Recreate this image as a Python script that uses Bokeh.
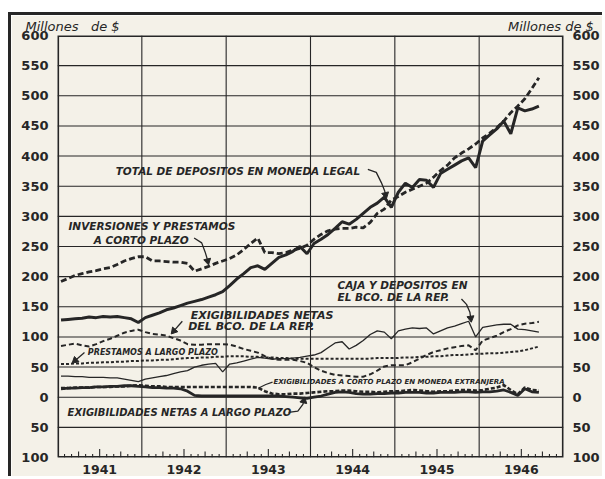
import math
from bokeh.plotting import figure
from bokeh.models import Range1d, FixedTicker, LinearAxis, Label, Title
from bokeh.embed import file_html
from bokeh.resources import INLINE

# ---------------- data (millones de $), monthly Jan 1941 .. Sep 1946 ----------------
START_YEAR = 1941
N_MONTHS = 69
YEARS = [1941, 1942, 1943, 1944, 1945, 1946]

total_depositos = [
    128, 129, 130, 131, 133, 132, 134, 133, 134, 132, 130, 124,
    132, 136, 140, 145, 148, 152, 156, 159, 162, 166, 170, 175,
    185, 196, 205, 215, 218, 212, 222, 232, 236, 242, 250, 238,
    255, 262, 270, 280, 291, 287, 295, 305, 315, 322, 332, 315,
    340, 355, 348, 361, 360, 348, 371, 378, 385, 392, 397, 381,
    425, 435, 445, 458, 437, 480, 475, 478, 483]

inversiones_corto = [
    192, 197, 202, 205, 208, 210, 213, 215, 220, 226, 230, 233,
    233, 226, 226, 225, 224, 224, 222, 209, 213, 217, 222, 226,
    230, 236, 245, 255, 264, 240, 240, 238, 240, 244, 247, 252,
    262, 270, 276, 279, 280, 280, 282, 281, 290, 305, 312, 327,
    333, 340, 345, 350, 355, 365, 376, 385, 397, 405, 412, 420,
    430, 438, 447, 458, 472, 483, 495, 512, 530]

exig_netas_bco = [
    85, 87, 89, 86, 84, 88, 93, 97, 102, 107, 110, 112,
    108, 105, 104, 102, 98, 94, 88, 87, 87, 88, 88, 88,
    87, 84, 80, 77, 74, 68, 64, 62, 62, 62, 60, 57,
    50, 44, 40, 37, 36, 35, 34, 34, 38, 44, 51, 53,
    53, 53, 58, 64, 70, 75, 78, 81, 83, 85, 86, 78,
    94, 98, 102, 108, 113, 119, 122, 123, 125]

prestamos_largo = [
    55, 55, 56, 56, 57, 57, 58, 58, 59, 59, 60, 60,
    61, 61, 62, 62, 63, 64, 65, 65, 66, 66, 67, 67,
    68, 68, 68, 67, 67, 66, 66, 65, 65, 64, 64, 64,
    64, 64, 64, 64, 64, 64, 64, 64, 64, 65, 65, 65,
    65, 66, 66, 67, 67, 68, 68, 69, 70, 70, 71, 72,
    72, 73, 73, 74, 75, 76, 78, 81, 84]

caja_depositos = [
    35, 35, 34, 34, 33, 33, 33, 32, 32, 30, 28, 26,
    30, 32, 34, 36, 39, 42, 44, 50, 53, 55, 56, 42,
    55, 57, 60, 63, 66, 65, 63, 64, 64, 65, 66, 68,
    70, 74, 82, 90, 92, 80, 86, 94, 104, 110, 108, 97,
    110, 113, 115, 114, 115, 105, 110, 115, 118, 122, 126, 100,
    116, 118, 120, 121, 121, 113, 112, 110, 108]

exig_corto_extranjera = [
    15, 15, 16, 16, 16, 17, 17, 17, 18, 18, 19, 20,
    19, 18, 18, 17, 17, 17, 17, 17, 17, 17, 17, 17,
    17, 17, 17, 17, 16, 10, 6, 5, 5, 6, 6, 7,
    8, 9, 10, 10, 11, 11, 10, 9, 9, 8, 9, 10,
    10, 11, 12, 11, 10, 9, 10, 10, 11, 12, 12, 11,
    12, 14, 16, 20, 12, 5, 16, 12, 11]

exig_netas_largo = [
    14, 15, 15, 16, 16, 17, 17, 18, 18, 19, 19, 18,
    17, 16, 16, 15, 15, 14, 10, 3, 2, 2, 2, 2,
    2, 2, 2, 2, 2, 2, 2, 2, 1, 0, -1, -2,
    0, 2, 5, 8, 9, 8, 6, 5, 5, 6, 6, 7,
    7, 8, 8, 8, 7, 7, 8, 8, 8, 9, 9, 8,
    9, 9, 10, 12, 8, 3, 14, 9, 8]

Y_TICKS = list(range(-100, 601, 50))
Y_MIN, Y_MAX = -100, 600
X_MIN, X_MAX = 1941, 1947

months_x = [START_YEAR + (m + 0.5) / 12 for m in range(N_MONTHS)]

# ---------------- styling ----------------
BG = "#f4f1e8"
INK = "#262626"
FONT = "DejaVu Sans"
NAN = float("nan")

p = figure(width=594, height=464,
           x_range=Range1d(X_MIN, X_MAX), y_range=Range1d(Y_MIN, Y_MAX),
           output_backend="svg", toolbar_location=None,
           min_border_left=46, min_border_right=42, min_border_top=18, min_border_bottom=22,
           background_fill_color=BG, border_fill_color=BG)
p.styles = {"margin-left": "8px", "margin-top": "12px",
            "border-left": "3px solid #262626", "border-top": "3px solid #262626"}
p.outline_line_color = None
p.xgrid.visible = False
p.ygrid.visible = False

# caption row above the frame ("Millones de $" on both sides)
gap = "\u00a0" * 94
p.title = Title(text="Millones\u00a0\u00a0\u00a0de $" + gap + "Millones de $",
                align="left", offset=-32, standoff=3, text_font=FONT,
                text_font_style="italic", text_font_size="13px", text_color=INK)

# invisible short dashed stroke drawn first
p.line([X_MIN + 0.01, X_MIN + 0.05], [Y_MIN + 1, Y_MIN + 1],
       line_color=BG, line_width=0.5, line_dash="3 2")

# axes (labels through plain overrides)
p.xaxis.ticker = FixedTicker(ticks=[y + 0.5 for y in YEARS])
p.xaxis.major_label_overrides = {y + 0.5: str(y) for y in YEARS}
p.xaxis.major_tick_line_color = None
p.xaxis.minor_tick_line_color = None
p.xaxis.axis_line_color = None
p.xaxis.major_label_standoff = 1
p.xaxis.major_label_text_font = FONT
p.xaxis.major_label_text_font_style = "bold"
p.xaxis.major_label_text_font_size = "12.5px"
p.xaxis.major_label_text_color = INK

y_overrides = {t: str(abs(t)) for t in Y_TICKS}
p.yaxis.ticker = FixedTicker(ticks=Y_TICKS)
p.yaxis.major_label_overrides = y_overrides
right_axis = LinearAxis(ticker=FixedTicker(ticks=Y_TICKS), major_label_overrides=y_overrides)
p.add_layout(right_axis, "right")
for ax in (p.yaxis[0], right_axis):
    ax.major_tick_line_color = None
    ax.minor_tick_line_color = None
    ax.axis_line_color = None
    ax.major_label_standoff = 3
    ax.major_label_text_font = FONT
    ax.major_label_text_font_style = "bold"
    ax.major_label_text_font_size = "13px"
    ax.major_label_text_color = INK

# ---------------- series ----------------
p.line(months_x, prestamos_largo, line_color=INK, line_width=2.0, line_dash="3 2")
p.line(months_x, caja_depositos, line_color=INK, line_width=1.3)
p.line(months_x, exig_netas_bco, line_color=INK, line_width=2.0, line_dash="5 3")
p.line(months_x, exig_corto_extranjera, line_color=INK, line_width=2.6, line_dash="4 2")
p.line(months_x, exig_netas_largo, line_color=INK, line_width=2.8)
p.line(months_x, inversiones_corto, line_color=INK, line_width=2.8, line_dash="6 3")
p.line(months_x, total_depositos, line_color=INK, line_width=3.0)

# grid + frame drawn as line glyphs (NaN-separated), same ink as the curves
gx, gy = [], []
for yr in YEARS[1:]:
    gx += [yr, yr, NAN]
    gy += [Y_MIN, Y_MAX, NAN]
for t in Y_TICKS[1:-1]:
    gx += [X_MIN, X_MAX, NAN]
    gy += [t, t, NAN]
p.line(gx, gy, line_color=INK, line_width=1.1)
p.line([X_MIN, X_MAX, X_MAX, X_MIN, X_MIN], [Y_MIN, Y_MIN, Y_MAX, Y_MAX, Y_MIN],
       line_color=INK, line_width=3.2)

# monthly tick marks along the bottom edge (inside the frame)
tx, ty = [], []
for k in range(1, 72):
    if k % 12 == 0:
        continue
    xk = START_YEAR + k / 12
    tx += [xk, xk, NAN]
    ty += [Y_MIN, Y_MIN + (14 if k % 6 == 0 else (10 if k % 3 == 0 else 6)), NAN]
p.line(tx, ty, line_color=INK, line_width=1.1)

# ---------------- annotations ----------------
PX_PER_YEAR = 506 / 6.0
PX_PER_UNIT = 424 / 700.0

def label(x, y, text, size="10.5px", style="bold italic"):
    p.add_layout(Label(x=x, y=y, text=text, text_font=FONT, text_font_style=style,
                       text_font_size=size, text_color=INK, text_baseline="middle",
                       text_align="left"))

def leader(xs, ys, width=1.3):
    p.line(xs, ys, line_color=INK, line_width=width)
    dx = (xs[-1] - xs[-2]) * PX_PER_YEAR
    dy = (ys[-1] - ys[-2]) * PX_PER_UNIT
    ang = math.atan2(dy, dx) - math.pi / 2
    p.scatter([xs[-1]], [ys[-1]], marker="triangle", size=7, angle=ang,
              fill_color=INK, line_color=INK)

label(1941.69, 376, "TOTAL DE DEPOSITOS EN MONEDA LEGAL")
leader([1944.68, 1944.78, 1944.84, 1944.88, 1944.89], [378, 373, 356, 342, 336])

label(1941.13, 284, "INVERSIONES Y PRESTAMOS")
label(1941.43, 261, "A CORTO PLAZO")
leader([1942.62, 1942.71, 1942.75, 1942.77, 1942.78], [264, 256, 241, 232, 226])

label(1942.58, 136, "EXIGIBILIDADES NETAS", size="11px")
label(1942.55, 117, "DEL BCO. DE LA REP.", size="11px")
leader([1942.48, 1942.38], [126, 110])

label(1944.32, 186, "CAJA Y DEPOSITOS EN")
label(1944.32, 167, "EL BCO. DE LA REP.")
leader([1945.79, 1945.85, 1945.89, 1945.90], [163, 154, 141, 131])

label(1941.36, 74, "PRESTAMOS A LARGO PLAZO", size="8px")
leader([1941.32, 1941.21], [74, 61])

label(1943.56, 26, "EXIGIBILIDADES A CORTO PLAZO EN MONEDA EXTRANJERA", size="7px")
p.line([1943.38, 1943.47, 1943.55], [15, 21, 25], line_color=INK, line_width=1.2)

label(1941.12, -26, "EXIGIBILIDADES NETAS A LARGO PLAZO", size="10px")
leader([1943.74, 1943.85, 1943.91, 1943.92], [-25, -23, -12, -6])

open("out.html", "w").write(file_html(p, INLINE))
